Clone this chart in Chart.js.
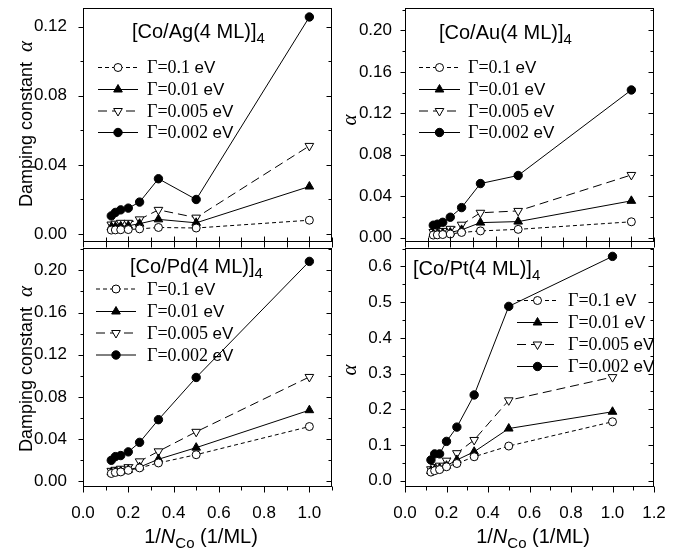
<!DOCTYPE html>
<html>
<head>
<meta charset="utf-8">
<script src="https://cdn.jsdelivr.net/npm/chart.js@4/dist/chart.umd.min.js"></script>
<style>
  html, body { margin: 0; padding: 0; background: #fff; }
  #wrap { position: relative; width: 681px; height: 549px; background: #fff; }
  #wrap canvas { position: absolute; left: 0; top: 0; }
</style>
</head>
<body>
<div id="wrap">
  <canvas id="cAg" width="681" height="549"></canvas>
  <canvas id="cAu" width="681" height="549"></canvas>
  <canvas id="cPd" width="681" height="549"></canvas>
  <canvas id="cPt" width="681" height="549"></canvas>
</div>
<script>
// 1/N_Co for N_Co = 8 ... 1 monolayers
const invN = [0.125, 0.1429, 0.1667, 0.2, 0.25, 0.3333, 0.5, 1.0];
const gammaLabels = ['0.1', '0.01', '0.005', '0.002'];

// [Co/Ag(4 ML)]4
const agG01   = [0.0023, 0.0024, 0.0025, 0.0026, 0.0030, 0.0038, 0.0035, 0.0080];
const agG001  = [0.0040, 0.0042, 0.0045, 0.0048, 0.0060, 0.0085, 0.0065, 0.0275];
const agG0005 = [0.0055, 0.0060, 0.0065, 0.0065, 0.0085, 0.0140, 0.0095, 0.0510];
const agG0002 = [0.0105, 0.0125, 0.0140, 0.0150, 0.0185, 0.0320, 0.0200, 0.1256];

// [Co/Au(4 ML)]4
const auG01   = [0.0025, 0.0027, 0.0030, 0.0035, 0.0050, 0.0065, 0.0080, 0.0153];
const auG001  = [0.0035, 0.0040, 0.0045, 0.0050, 0.0075, 0.0145, 0.0155, 0.0355];
const auG0005 = [0.0055, 0.0060, 0.0065, 0.0085, 0.0125, 0.0240, 0.0258, 0.0605];
const auG0002 = [0.0120, 0.0130, 0.0148, 0.0197, 0.0290, 0.0522, 0.0600, 0.1425];

// [Co/Pd(4 ML)]4
const pdG01   = [0.0075, 0.0085, 0.0090, 0.0105, 0.0128, 0.0175, 0.0253, 0.0520];
const pdG001  = [0.0085, 0.0090, 0.0095, 0.0110, 0.0135, 0.0210, 0.0320, 0.0675];
const pdG0005 = [0.0100, 0.0110, 0.0120, 0.0135, 0.0190, 0.0285, 0.0470, 0.0990];
const pdG0002 = [0.0200, 0.0235, 0.0245, 0.0280, 0.0370, 0.0585, 0.0985, 0.2085];

// [Co/Pt(4 ML)]4
const ptG01   = [0.024, 0.028, 0.031, 0.039, 0.048, 0.067, 0.097, 0.165];
const ptG001  = [0.027, 0.031, 0.035, 0.042, 0.058, 0.081, 0.146, 0.193];
const ptG0005 = [0.032, 0.038, 0.042, 0.056, 0.077, 0.114, 0.225, 0.290];
const ptG0002 = [0.058, 0.075, 0.075, 0.110, 0.150, 0.240, 0.488, 0.628];

// tick values and their labels
const xTicksShort = [0, 0.2, 0.4, 0.6, 0.8, 1.0];
const xTicksLong  = [0, 0.2, 0.4, 0.6, 0.8, 1.0, 1.2];
const xTickLabelsLong = ['0.0', '0.2', '0.4', '0.6', '0.8', '1.0', '1.2'];
const yTicksAg = [0, 0.04, 0.08, 0.12];
const yTickLabelsAg = ['0.00', '0.04', '0.08', '0.12'];
const yTicksAuPd = [0, 0.04, 0.08, 0.12, 0.16, 0.20];
const yTickLabelsAuPd = ['0.00', '0.04', '0.08', '0.12', '0.16', '0.20'];
const yTicksPt = [0, 0.1, 0.2, 0.3, 0.4, 0.5, 0.6];
const yTickLabelsPt = ['0.0', '0.1', '0.2', '0.3', '0.4', '0.5', '0.6'];

const SANS = "'Liberation Sans', Arial, Helvetica, sans-serif";
const SERIF = "'Liberation Serif', 'Times New Roman', serif";

// line / marker look of each damping series
const seriesLook = [
  { dash: [4, 3], shape: 'circle',   rot: 0,   r: 4,   filled: false },
  { dash: [],     shape: 'triangle', rot: 0,   r: 5,   filled: true  },
  { dash: [9, 5], shape: 'triangle', rot: 180, r: 5,   filled: false },
  { dash: [],     shape: 'circle',   rot: 0,   r: 4.2, filled: true  }
];

function marker(ctx, look, x, y) {
  ctx.save();
  ctx.setLineDash([]);
  ctx.beginPath();
  if (look.shape === 'circle') {
    ctx.arc(x, y, look.r, 0, Math.PI * 2);
  } else {
    let a = look.rot * Math.PI / 180;
    for (let k = 0; k < 3; k++) {
      const px = x + Math.sin(a) * look.r, py = y - Math.cos(a) * look.r;
      if (k === 0) ctx.moveTo(px, py); else ctx.lineTo(px, py);
      a += 2 * Math.PI / 3;
    }
    ctx.closePath();
  }
  ctx.fillStyle = look.filled ? '#000' : '#fff';
  ctx.fill();
  ctx.lineWidth = 1;
  ctx.strokeStyle = '#000';
  ctx.stroke();
  ctx.restore();
}

function runsWidth(ctx, runs) {
  let w = 0;
  for (const r of runs) { ctx.font = r.font; w += ctx.measureText(r.t).width; }
  return w;
}
function drawRuns(ctx, x, y, runs) {
  for (const r of runs) {
    ctx.font = r.font;
    ctx.fillText(r.t, x, y + (r.dy || 0));
    x += ctx.measureText(r.t).width;
  }
}

// frame, tick marks, titles and legend of one panel
const panelDecor = {
  id: 'panelDecor',
  afterDraw(chart, args, o) {
    const ctx = chart.ctx, a = chart.chartArea;
    const xs = chart.scales.x, ys = chart.scales.y;
    const L = Math.round(a.left) + 0.5, R = Math.round(a.right) - 0.5;
    const T = Math.round(a.top) + 0.5, B = Math.round(a.bottom) - 0.5;
    ctx.save();
    ctx.strokeStyle = '#000';
    ctx.lineWidth = 1;
    ctx.setLineDash([]);
    ctx.strokeRect(L, T, R - L, B - T);

    ctx.beginPath();
    // y ticks: outward on the left, inward on the right
    for (let i = 0; ; i++) {
      const v = i * o.yMinor;
      if (v > ys.max + 1e-9) break;
      const py = Math.round(ys.getPixelForValue(v)) + 0.5;
      const len = (i % 2 === 0) ? 5 : 3;
      ctx.moveTo(L, py); ctx.lineTo(L - len, py);
      ctx.moveTo(R, py); ctx.lineTo(R - len, py);
    }
    // x ticks
    for (let i = 0; ; i++) {
      const v = i * 0.1;
      if (v > xs.max + 1e-9) break;
      const px = Math.round(xs.getPixelForValue(v)) + 0.5;
      const major = i % 2 === 0;
      if (o.bottomRow) {
        ctx.moveTo(px, B); ctx.lineTo(px, B + (major ? 6 : 4));
      } else {
        ctx.moveTo(px, B - (major ? 5 : 4)); ctx.lineTo(px, B + 6);
      }
    }
    ctx.stroke();

    ctx.fillStyle = '#000';
    ctx.textBaseline = 'alphabetic';
    ctx.textAlign = 'left';

    // panel title with subscript
    drawRuns(ctx, o.titleX, o.titleY, [
      { t: o.title, font: '20px ' + SANS },
      { t: '4', font: '15px ' + SANS, dy: 5 }
    ]);

    // y-axis title, rotated
    const yRuns = o.yTitleLong
      ? [{ t: 'Damping constant  ', font: '18px ' + SANS }, { t: 'α', font: 'italic 21px ' + SERIF }]
      : [{ t: 'α', font: 'italic 21px ' + SERIF }];
    ctx.save();
    ctx.translate(o.yTitleX, o.yTitleY);
    ctx.rotate(-Math.PI / 2);
    drawRuns(ctx, -runsWidth(ctx, yRuns) / 2, 6, yRuns);
    ctx.restore();

    // x-axis title
    if (o.bottomRow) {
      const xRuns = [
        { t: '1/', font: '20px ' + SANS },
        { t: 'N', font: 'italic 20px ' + SANS },
        { t: 'Co', font: '15px ' + SANS, dy: 5 },
        { t: ' (1/ML)', font: '20px ' + SANS }
      ];
      drawRuns(ctx, o.xTitleX - runsWidth(ctx, xRuns) / 2, 543, xRuns);
    }

    // legend
    const lg = o.legend;
    seriesLook.forEach((look, i) => {
      const y = lg.rows[i];
      ctx.beginPath();
      ctx.setLineDash(look.dash);
      ctx.moveTo(lg.x0, y + 0.5);
      ctx.lineTo(lg.x1, y + 0.5);
      ctx.stroke();
      ctx.setLineDash([]);
      marker(ctx, look, (lg.x0 + lg.x1) / 2, y + 0.5);
      drawRuns(ctx, lg.tx, y + 6, [
        { t: 'Γ=' + gammaLabels[i] + ' ', font: '18px ' + SERIF },
        { t: 'eV', font: '17px ' + SANS }
      ]);
    });
    ctx.restore();
  }
};

function zeroPad(s) { s.paddingLeft = 0; s.paddingRight = 0; s.paddingTop = 0; s.paddingBottom = 0; }

const Y_AXIS_W = 80, X_AXIS_H = 50;

function makePanel(id, p) {
  const datasets = p.series.map((vals, i) => {
    const look = seriesLook[i];
    return {
      label: 'Γ=' + gammaLabels[i] + ' eV',
      data: invN.map((x, j) => ({ x: x, y: vals[j] })),
      borderColor: '#000',
      borderWidth: 1,
      borderDash: look.dash,
      tension: 0,
      fill: false,
      pointStyle: look.shape,
      pointRotation: look.rot,
      pointRadius: look.r,
      pointBorderWidth: 1,
      pointBorderColor: '#000',
      pointBackgroundColor: look.filled ? '#000' : '#fff'
    };
  });
  const a = p.area;
  return new Chart(document.getElementById(id), {
    type: 'line',
    data: { datasets: datasets },
    plugins: [panelDecor],
    options: {
      responsive: false,
      animation: false,
      devicePixelRatio: 1,
      layout: {
        padding: {
          left: a.left - Y_AXIS_W,
          right: 681 - a.right,
          top: a.top,
          bottom: 549 - a.bottom - X_AXIS_H
        }
      },
      plugins: {
        legend: { display: false },
        tooltip: { enabled: false },
        panelDecor: p.decor
      },
      scales: {
        x: {
          type: 'linear',
          min: 0,
          max: p.xMax,
          afterBuildTicks: s => { s.ticks = p.xTicks.map(v => ({ value: v })); },
          afterFit: s => { s.height = X_AXIS_H; zeroPad(s); },
          grid: { display: false, drawTicks: false },
          border: { display: false },
          ticks: {
            display: p.decor.bottomRow,
            autoSkip: false,
            maxRotation: 0,
            padding: 16,
            color: '#000',
            font: { family: SANS, size: 17 },
            callback: (v, i) => xTickLabelsLong[i]
          }
        },
        y: {
          type: 'linear',
          min: p.yMin,
          max: p.yMax,
          afterBuildTicks: s => { s.ticks = p.yTicks.map(v => ({ value: v })); },
          afterFit: s => { s.width = Y_AXIS_W; zeroPad(s); },
          grid: { display: false, drawTicks: false },
          border: { display: false },
          ticks: {
            autoSkip: false,
            padding: p.yPad,
            color: '#000',
            font: { family: SANS, size: 17 },
            callback: (v, i) => p.yTickLabels[i]
          }
        }
      }
    }
  });
}

makePanel('cAg', {
  series: [agG01, agG001, agG0005, agG0002],
  xMax: 1.1, xTicks: xTicksShort,
  yMin: -0.0046, yMax: 0.1308, yTicks: yTicksAg, yTickLabels: yTickLabelsAg, yPad: 16,
  area: { left: 83, right: 332, top: 8, bottom: 242 },
  decor: {
    bottomRow: false, yMinor: 0.02,
    title: '[Co/Ag(4 ML)]', titleX: 132, titleY: 38,
    yTitleLong: true, yTitleX: 26, yTitleY: 124,
    legend: { x0: 98, x1: 138, tx: 147, rows: [67, 89, 110.5, 132] }
  }
});

makePanel('cAu', {
  series: [auG01, auG001, auG0005, auG0002],
  xMax: 1.1, xTicks: xTicksShort,
  yMin: -0.0042, yMax: 0.2216, yTicks: yTicksAuPd, yTickLabels: yTickLabelsAuPd, yPad: 13,
  area: { left: 405, right: 654, top: 8, bottom: 242 },
  decor: {
    bottomRow: false, yMinor: 0.02,
    title: '[Co/Au(4 ML)]', titleX: 439, titleY: 39,
    yTitleLong: false, yTitleX: 350, yTitleY: 120,
    legend: { x0: 419, x1: 460, tx: 468, rows: [67, 89, 110.5, 132] }
  }
});

makePanel('cPd', {
  series: [pdG01, pdG001, pdG0005, pdG0002],
  xMax: 1.1, xTicks: xTicksShort,
  yMin: -0.0053, yMax: 0.2212, yTicks: yTicksAuPd, yTickLabels: yTickLabelsAuPd, yPad: 16,
  area: { left: 83, right: 332, top: 248, bottom: 487 },
  decor: {
    bottomRow: true, yMinor: 0.02,
    title: '[Co/Pd(4 ML)]', titleX: 130, titleY: 273,
    yTitleLong: true, yTitleX: 26, yTitleY: 369,
    xTitleX: 201,
    legend: { x0: 96, x1: 136, tx: 147, rows: [288.5, 311, 332.5, 354.5] }
  }
});

makePanel('cPt', {
  series: [ptG01, ptG001, ptG0005, ptG0002],
  xMax: 1.2, xTicks: xTicksLong,
  yMin: -0.0177, yMax: 0.6515, yTicks: yTicksPt, yTickLabels: yTickLabelsPt, yPad: 13,
  area: { left: 405, right: 654, top: 248, bottom: 487 },
  decor: {
    bottomRow: true, yMinor: 0.05,
    title: '[Co/Pt(4 ML)]', titleX: 413, titleY: 275,
    yTitleLong: false, yTitleX: 350, yTitleY: 370,
    xTitleX: 533,
    legend: { x0: 517, x1: 558, tx: 568, rows: [300, 322, 344, 366] }
  }
});
</script>
</body>
</html>
